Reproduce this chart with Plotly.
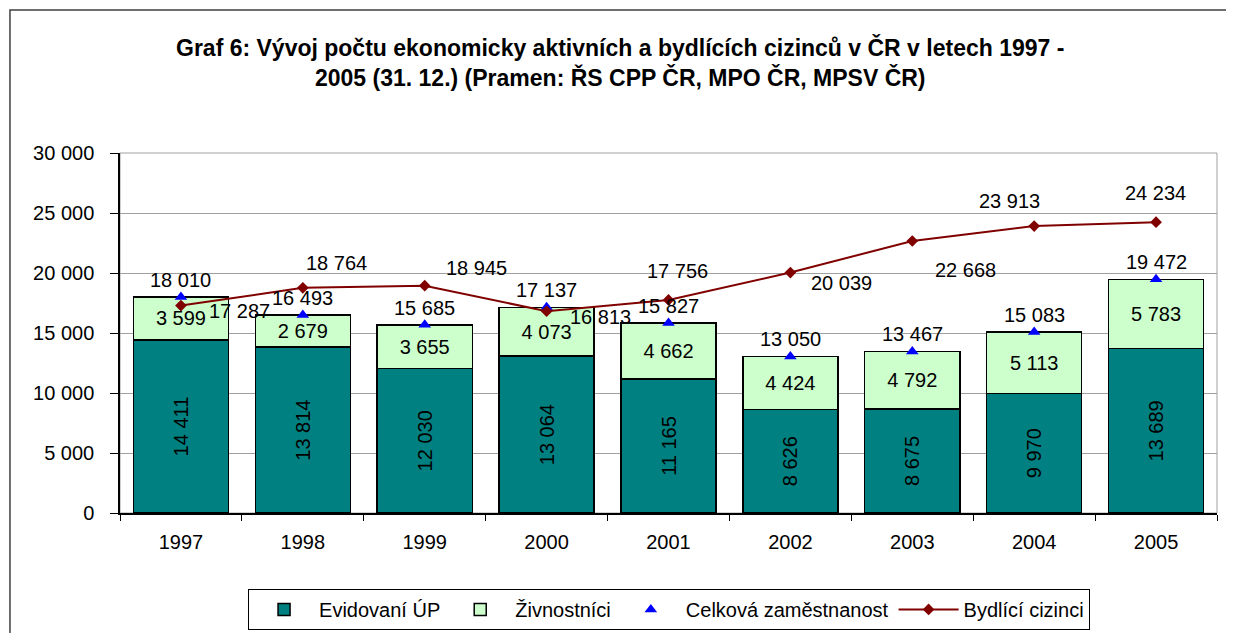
import plotly.graph_objects as go

years = ["1997", "1998", "1999", "2000", "2001", "2002", "2003", "2004", "2005"]
evidovani_up = [14411, 13814, 12030, 13064, 11165, 8626, 8675, 9970, 13689]
zivnostnici = [3599, 2679, 3655, 4073, 4662, 4424, 4792, 5113, 5783]
celkova_zamestnanost = [18010, 16493, 15685, 17137, 15827, 13050, 13467, 15083, 19472]
bydlici_cizinci = [17287, 18764, 18945, 16813, 17756, 20039, 22668, 23913, 24234]

# label offsets (pixels) for the "Bydlící cizinci" labels
line_label_dx = [59, 34, 52, 54, 9, 51, 53, -25, -1]
line_label_dy = [-5, 25, 18, -6, 29, -10, -29, 25, 29]


def fmt(v):
    return f"{v:,}".replace(",", " ")


FONT = "Liberation Sans, Arial, sans-serif"

fig = go.Figure()
fig.add_trace(go.Bar(
    x=years, y=evidovani_up, name="Evidovaní ÚP",
    marker=dict(color="#008080", line=dict(color="black", width=1.5)),
    text=[fmt(v) for v in evidovani_up], textposition="inside",
    insidetextanchor="middle", textangle=-90,
    textfont=dict(family=FONT, size=20, color="black"),
))
fig.add_trace(go.Bar(
    x=years, y=zivnostnici, name="Živnostníci",
    marker=dict(color="#CCFFCC", line=dict(color="black", width=1.5)),
    text=[fmt(v) for v in zivnostnici], textposition="inside",
    insidetextanchor="middle", textangle=0,
    textfont=dict(family=FONT, size=20, color="black"),
))
fig.add_trace(go.Scatter(
    x=years, y=celkova_zamestnanost, name="Celková zaměstnanost",
    mode="markers",
    marker=dict(symbol="triangle-up", color="#0000FF", size=11),
))
fig.add_trace(go.Scatter(
    x=years, y=bydlici_cizinci, name="Bydlící cizinci",
    mode="lines+markers",
    line=dict(color="#800000", width=2),
    marker=dict(symbol="diamond", color="#800000", size=9),
))

annotations = []
for i, v in enumerate(celkova_zamestnanost):
    annotations.append(dict(
        x=i, y=v, xref="x", yref="y", text=fmt(v), showarrow=False,
        yshift=17, font=dict(family=FONT, size=20, color="black"),
    ))
for i, (v, dx, dy) in enumerate(zip(bydlici_cizinci, line_label_dx, line_label_dy)):
    annotations.append(dict(
        x=i, y=v, xref="x", yref="y", text=fmt(v), showarrow=False,
        xshift=dx, yshift=dy, font=dict(family=FONT, size=20, color="black"),
    ))

annotations.append(dict(
    x=0.456, y=1.294, xref="paper", yref="paper", showarrow=False,
    text="<b>Graf 6: Vývoj počtu ekonomicky aktivních a bydlících cizinců v ČR v letech 1997 -</b>",
    font=dict(family=FONT, size=23, color="black"), xanchor="center", yanchor="middle",
))
annotations.append(dict(
    x=0.456, y=1.211, xref="paper", yref="paper", showarrow=False,
    text="<b>2005 (31. 12.) (Pramen: ŘS CPP ČR, MPO ČR, MPSV ČR)</b>",
    font=dict(family=FONT, size=23, color="black"), xanchor="center", yanchor="middle",
))

shapes = [
    dict(type="rect", xref="paper", yref="paper", x0=0, x1=1, y0=0, y1=1,
         line=dict(color="#A0A0A0", width=1), layer="below"),
    dict(type="rect", xref="paper", yref="paper", x0=-0.1003, x1=1.06, y0=-0.38, y1=1.397,
         line=dict(color="#404040", width=1.5), layer="below"),
]

fig.update_layout(
    width=1234, height=633,
    margin=dict(l=112, r=25, t=145, b=128, autoexpand=False),
    paper_bgcolor="white", plot_bgcolor="white",
    barmode="stack", bargap=0.22,
    separators=", ",
    font=dict(family=FONT, size=20, color="black"),
    showlegend=True,
    legend=dict(
        orientation="h", x=0.5005, y=-0.211, xanchor="center", yanchor="top",
        bordercolor="black", borderwidth=1, bgcolor="white",
        font=dict(family=FONT, size=20, color="black"),
        traceorder="normal", itemwidth=60,
    ),
    annotations=annotations,
    shapes=shapes,
    xaxis=dict(
        type="category", range=[-0.5, 8.5], showline=True, linecolor="black", linewidth=1.5,
        ticks="outside", tickson="boundaries", ticklen=6, tickcolor="black",
        showgrid=False, tickfont=dict(family=FONT, size=20), tickangle=0,
        ticklabelstandoff=10,
    ),
    yaxis=dict(
        range=[0, 30000], dtick=5000, tickformat=",d",
        showline=True, linecolor="black", linewidth=1.5,
        ticks="outside", ticklen=8, tickcolor="black",
        showgrid=True, gridcolor="#A0A0A0", gridwidth=1,
        tickfont=dict(family=FONT, size=20), zeroline=False,
        ticklabelstandoff=12,
    ),
)

fig.write_html("out.html")
